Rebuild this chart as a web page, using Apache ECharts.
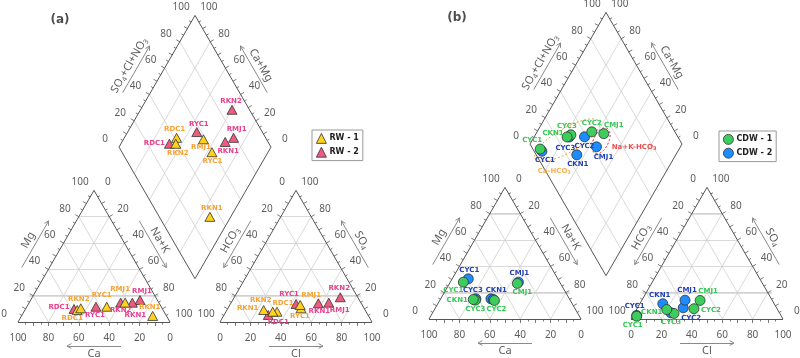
<!DOCTYPE html>
<html><head><meta charset="utf-8">
<script src="https://cdn.jsdelivr.net/npm/echarts@6/dist/echarts.min.js"></script>
<style>html,body{margin:0;padding:0;background:#fff}#c{width:800px;height:358px}</style>
</head><body><div id="c"></div>
<script>
// ================= DATA =================
const tickValues = [0, 20, 40, 60, 80, 100];
const namesA = ['RDC1', 'RKN2', 'RYC1', 'RMJ1', 'RKN1'];
// cation: [Ca, Mg, Na+K] (%), anion: [HCO3, SO4, Cl] (%)
const rw1Cation = [[56.5, 9.1, 34.4], [53.5, 10.4, 36.1], [35.8, 11.6, 52.6], [22.2, 14.7, 63.1], [9.1, 4.6, 86.3]];
const rw1Anion  = [[58.6, 7.8, 33.6], [61.4, 7.8, 30.8], [41.5, 10.4, 48.1], [40.8, 12.9, 46.3], [66.7, 9.1, 24.2]];
const rw2Cation = [[58.2, 9.9, 31.9], [25.1, 14.7, 60.2], [42.9, 11.6, 45.5], [11.4, 16.7, 71.9], [17.4, 14.7, 67.9]];
const rw2Anion  = [[65.6, 5.3, 29.1], [11.5, 18.8, 69.7], [43.1, 13.7, 43.2], [21.1, 14.7, 64.2], [28.2, 14.2, 57.6]];

const namesB = ['CYC1', 'CYC2', 'CYC3', 'CKN1', 'CMJ1'];
const cdw1Cation = [[63.4, 28.0, 8.6], [49.9, 14.1, 36.0], [62.3, 14.3, 23.4], [63.5, 14.8, 21.7], [28.4, 27.0, 44.6]];
const cdw1Anion  = [[95.2, 2.1, 2.7], [54.7, 7.8, 37.5], [69.6, 4.2, 26.2], [72.9, 7.2, 19.9], [47.5, 14.1, 38.4]];
const cdw2Cation = [[58.9, 30.5, 10.6], [51.6, 15.3, 33.1], [61.5, 15.3, 23.2], [50.3, 14.8, 34.9], [27.2, 28.0, 44.8]];
const cdw2Anion  = [[94.9, 2.7, 2.4], [61.4, 8.5, 30.1], [71.4, 4.7, 23.9], [73.3, 11.6, 15.1], [57.3, 14.3, 28.4]];

// water-type groups in diamond (b): [Ca+Mg, SO4+Cl]
const groupNames = ['Ca-HCO3', 'Na+K-HCO3'];
const groupCentres = [[77, 26], [54.5, 48]];

// ================= LAYOUT / STYLE =================
const SQ3 = Math.sqrt(3);
const SIDE = 152, HGT = SIDE * SQ3 / 2, GAP = 50;
const PANEL_POS = { a: [18, 322], b: [429, 319] };
const NB = [0, 1], NL = [-SQ3 / 2, -0.5], NR = [SQ3 / 2, -0.5];
const FONT = 'Noto Sans';
const LBL_FONT = 'DejaVu Sans';

const LABEL_OFFSETS = {
  'RW-1': { cat: { RDC1: [-5, 8], RKN2: [-2, -9], RYC1: [-5, -12], RMJ1: [-5, -13], RKN1: [-3, -9] },
            an:  { RDC1: [6, -9], RKN2: [-12, -12], RYC1: [-1, 8], RMJ1: [11, -10], RKN1: [-16, -2] },
            dia: { RDC1: [-2, -9], RKN2: [2, 9], RYC1: [9, 22], RMJ1: [-11, -5], RKN1: [2, -9] } },
  'RW-2': { cat: { RDC1: [-15, -2], RKN2: [0, 8], RYC1: [-1, 8], RMJ1: [2, -9], RKN1: [3, 13] },
            an:  { RDC1: [10, 7], RKN2: [-1, -9], RYC1: [-7, -10], RMJ1: [11, 8], RKN1: [1, 8] },
            dia: { RDC1: [-15, -1], RKN2: [-1, -9], RYC1: [2, -8], RMJ1: [3, -9], RKN1: [3, 9] } },
  'CDW-1': { cat: { CYC1: [-10, 8], CYC2: [2, 9], CYC3: [0, 9], CKN1: [-16, 1], CMJ1: [5, 9] },
             an:  { CYC1: [-4, 9], CYC2: [17, 1], CYC3: [-3, 9], CKN1: [-15, 3], CMJ1: [8, -9] },
             dia: { CYC1: [-8, -9], CYC2: [0, -9], CYC3: [-4, -9], CKN1: [-14, -4], CMJ1: [10, -8] } },
  'CDW-2': { cat: { CYC1: [1, -9], CYC3: [-3, -9], CKN1: [3, -9], CMJ1: [1, -9] },
             an:  { CYC1: [-2, -9], CYC2: [8, 10], CKN1: [-3, -9], CMJ1: [2, -10] },
             dia: { CYC1: [3, 9], CYC2: [0, 9], CYC3: [-4, 11], CKN1: [1, 9], CMJ1: [7, 10] } }
};
const GROUP_STYLE = [
  { color: '#f5a030', rx: 37, ry: 12, rot: -30, label: '{t|Ca-HCO}{s|3}', off: [-13, 31] },
  { color: '#e62222', rx: 14, ry: 7.5, rot: -65, label: '{t|Na+K-HCO}{s|3}', off: [33, 6] }
];

function layout(p) {
  const [x0, yb] = PANEL_POS[p];
  const cat = { L: [x0, yb], R: [x0 + SIDE, yb], A: [x0 + SIDE / 2, yb - HGT] };
  const ax0 = x0 + SIDE + GAP;
  const an = { L: [ax0, yb], R: [ax0 + SIDE, yb], A: [ax0 + SIDE / 2, yb - HGT] };
  const B = [x0 + SIDE + GAP / 2, yb - GAP / 2 * SQ3];
  const dia = { B, Lf: [B[0] - SIDE / 2, B[1] - HGT], Rt: [B[0] + SIDE / 2, B[1] - HGT], T: [B[0], B[1] - 2 * HGT] };
  return { cat, an, dia };
}
const lerp = (P, Q, t) => [P[0] + (Q[0] - P[0]) * t, P[1] + (Q[1] - P[1]) * t];
const add = (P, v, k) => [P[0] + v[0] * k, P[1] + v[1] * k];
function bary(T, wL, wA, wR) {
  const s = wL + wA + wR;
  return [(T.L[0] * wL + T.A[0] * wA + T.R[0] * wR) / s, (T.L[1] * wL + T.A[1] * wA + T.R[1] * wR) / s];
}
function diaXY(g, c, s) {
  const { B, Lf, Rt } = g.dia;
  return [B[0] + (Lf[0] - B[0]) * c / 100 + (Rt[0] - B[0]) * s / 100,
          B[1] + (Lf[1] - B[1]) * c / 100 + (Rt[1] - B[1]) * s / 100];
}

// ================= STRUCTURE =================
const gridSegs = [], frameSegs = [], tickSegs = [], arrowSegs = [], hiliteSegs = [], texts = [];
const rich = {
  t: { fontSize: 11, fontFamily: FONT, color: '#333' },
  s: { fontSize: 7, fontFamily: FONT, color: '#333', padding: [6, 0, 0, 0] }
};
function txt(P, str, extra) {
  texts.push({ value: P, label: Object.assign({ formatter: str }, extra || {}) });
}

function triGrid(T) {
  for (let i = 1; i <= 4; i++) {
    const t = i / 5;
    gridSegs.push([lerp(T.L, T.R, t), lerp(T.A, T.R, t)]);
    gridSegs.push([lerp(T.R, T.L, t), lerp(T.A, T.L, t)]);
    gridSegs.push([lerp(T.L, T.A, t), lerp(T.R, T.A, t)]);
  }
  frameSegs.push([T.L, T.R], [T.R, T.A], [T.A, T.L]);
}

function edgeDecor(P, Q, n, vals, title, dir, rot, ticks) {
  if (ticks) {
    for (let k = 1; k < 20; k++) {
      const p = lerp(P, Q, k / 20);
      tickSegs.push([p, add(p, n, k % 2 === 0 ? 4 : 2.5)]);
    }
  }
  vals.forEach((v, i) => txt(add(lerp(P, Q, i / 5), n, 16), String(v), { fontSize: 10 }));
  const mid = lerp(P, Q, 0.5);
  const len = Math.hypot(Q[0] - P[0], Q[1] - P[1]);
  const u = [(Q[0] - P[0]) / len * dir, (Q[1] - P[1]) / len * dir];
  const c = add(mid, n, 24);
  const a0 = add(c, u, -27), a1 = add(c, u, 27);
  arrowSegs.push([a0, a1]);
  [0.5, -0.5].forEach(ang => {
    const cs = Math.cos(ang), sn = Math.sin(ang);
    const v = [-(u[0] * cs - u[1] * sn), -(u[0] * sn + u[1] * cs)];
    arrowSegs.push([a1, add(a1, v, 5)]);
  });
  txt(add(mid, n, 32), title, { rotate: rot, rich });
}

const up = tickValues, down = tickValues.slice().reverse();
['a', 'b'].forEach(p => {
  const g = layout(p);
  triGrid(g.cat); triGrid(g.an);
  // highlighted 20-level lines
  [g.cat, g.an].forEach(T => {
    const l = lerp(T.L, T.A, 0.2), r = lerp(T.R, T.A, 0.2);
    hiliteSegs.push([[l[0] - 4, l[1]], [r[0] + 4, r[1]]]);
    if (p === 'b') {
      const l8 = lerp(T.L, T.A, 0.8), r8 = lerp(T.R, T.A, 0.8);
      hiliteSegs.push([l8, r8]);
    }
  });
  const D = g.dia;
  for (let i = 1; i <= 4; i++) {
    const t = i / 5;
    gridSegs.push([lerp(D.B, D.Rt, t), lerp(D.Lf, D.T, t)]);
    gridSegs.push([lerp(D.B, D.Lf, t), lerp(D.Rt, D.T, t)]);
  }
  frameSegs.push([D.B, D.Lf], [D.Lf, D.T], [D.T, D.Rt], [D.Rt, D.B]);

  edgeDecor(g.cat.L, g.cat.R, NB, down, '{t|Ca}', -1, 0, true);
  edgeDecor(g.cat.L, g.cat.A, NL, up, '{t|Mg}', 1, 60, true);
  edgeDecor(g.cat.A, g.cat.R, NR, up, '{t|Na+K}', 1, -60, true);
  edgeDecor(g.an.L, g.an.R, NB, up, '{t|Cl}', 1, 0, true);
  edgeDecor(g.an.L, g.an.A, NL, down, '{t|HCO}{s|3}', -1, 60, true);
  edgeDecor(g.an.R, g.an.A, NR, up, '{t|SO}{s|4}', 1, -60, true);
  edgeDecor(D.Lf, D.T, NL, up, '{t|SO}{s|4}{t|+Cl+NO}{s|3}', 1, 60, true);
  edgeDecor(D.T, D.Rt, NR, down, '{t|Ca+Mg}', -1, -60, true);
});
txt([60, 20], '(a)', { fontSize: 12, fontWeight: 'bold', fontFamily: 'DejaVu Sans', color: '#222' });
txt([457, 18], '(b)', { fontSize: 12, fontWeight: 'bold', fontFamily: 'DejaVu Sans', color: '#222' });

// group annotation labels
const gB = layout('b');
const groupPts = groupCentres.map(c => diaXY(gB, c[0], c[1]));
groupPts.forEach((P, i) => {
  const st = GROUP_STYLE[i];
  txt(add(P, st.off, 1), st.label, {
    rich: {
      t: { fontSize: 7, fontWeight: 'bold', fontFamily: LBL_FONT, color: st.color },
      s: { fontSize: 5, fontWeight: 'bold', fontFamily: LBL_FONT, color: st.color, padding: [4, 0, 0, 0] }
    }
  });
});

function linesSeries(segs, color, width, z, dash) {
  return {
    type: 'lines', coordinateSystem: 'cartesian2d', polyline: false, silent: true, z, animation: false,
    lineStyle: { color, width, opacity: 1, type: dash || 'solid' },
    data: segs.map(s => ({ coords: s }))
  };
}

function pointSeries(group, panel, names, cation, anion, st) {
  const g = layout(panel);
  const data = [];
  const offs = LABEL_OFFSETS[group];
  names.forEach((nm, i) => {
    const [ca, mg, na] = cation[i];
    const [hc, so, cl] = anion[i];
    const cs = ca + mg + na, as = hc + so + cl;
    const pts = {
      cat: bary(g.cat, ca, mg, na),
      an: bary(g.an, hc, so, cl),
      dia: diaXY(g, (ca + mg) / cs * 100, (so + cl) / as * 100)
    };
    ['cat', 'an', 'dia'].forEach(k => {
      const off = offs[k][nm];
      data.push({ name: nm, value: pts[k], label: off ? { show: true, offset: off } : { show: false } });
    });
  });
  return {
    type: 'scatter', name: group, symbol: st.symbol, symbolSize: st.size, z: 5, animation: false,
    itemStyle: { color: st.fill, borderColor: '#333', borderWidth: 0.8, opacity: 1 },
    emphasis: { disabled: true },
    label: { show: true, position: 'inside', formatter: '{b}', color: st.labelColor, fontSize: 7,
             fontWeight: 'bold', fontFamily: LBL_FONT },
    data
  };
}

const series = [
  linesSeries(hiliteSegs, '#dedede', 2, 1),
  linesSeries(gridSegs, '#cfcfcf', 0.8, 2),
  linesSeries(frameSegs, '#555', 1, 3),
  linesSeries(tickSegs, '#555', 0.8, 3),
  linesSeries(arrowSegs, '#8a8a8a', 1, 3),
  {
    type: 'custom', coordinateSystem: 'cartesian2d', silent: true, z: 4, animation: false,
    data: groupPts,
    renderItem: function (params, api) {
      const st = GROUP_STYLE[params.dataIndex];
      const c = api.coord([api.value(0), api.value(1)]);
      const r = st.rot * Math.PI / 180, pts = [];
      for (let k = 0; k <= 72; k++) {
        const a = k / 72 * Math.PI * 2;
        const ex = st.rx * Math.cos(a), ey = st.ry * Math.sin(a);
        pts.push([c[0] + ex * Math.cos(r) - ey * Math.sin(r), c[1] + ex * Math.sin(r) + ey * Math.cos(r)]);
      }
      return { type: 'polyline', shape: { points: pts }, style: { fill: 'none', stroke: st.color, lineWidth: 1, lineDash: [2, 2] } };
    }
  },
  pointSeries('RW-2', 'a', namesA, rw2Cation, rw2Anion, { symbol: 'triangle', size: [10, 9], fill: '#ee5a80', labelColor: '#e8418c' }),
  pointSeries('RW-1', 'a', namesA, rw1Cation, rw1Anion, { symbol: 'triangle', size: [10, 9], fill: '#ffd21c', labelColor: '#f7a234' }),
  pointSeries('CDW-2', 'b', namesB, cdw2Cation, cdw2Anion, { symbol: 'circle', size: 10, fill: '#1e8cff', labelColor: '#1f3fb5' }),
  pointSeries('CDW-1', 'b', namesB, cdw1Cation, cdw1Anion, { symbol: 'circle', size: 10, fill: '#3ccd5c', labelColor: '#35c856' }),
  {
    type: 'scatter', silent: true, symbolSize: 1, z: 6, animation: false,
    itemStyle: { color: 'rgba(0,0,0,0)' },
    label: { show: true, position: 'inside', color: '#333', fontFamily: FONT, fontSize: 10 },
    data: texts
  }
];

const legendCommon = {
  orient: 'vertical', selectedMode: false, backgroundColor: '#fff', borderColor: '#999', borderWidth: 1,
  borderRadius: 0, padding: [3, 4, 3, 4], itemGap: 3, itemWidth: 10, itemHeight: 10,
  itemStyle: { borderWidth: 0.8, borderColor: '#333' },
  formatter: n => n.replace('-', ' - '),
  textStyle: { fontSize: 8, fontWeight: 'bold', fontFamily: LBL_FONT, color: '#222', padding: [0, 0, 0, -2] }
};

const chart = echarts.init(document.getElementById('c'), null, { renderer: 'canvas' });
chart.setOption({
  backgroundColor: '#fff',
  animation: false,
  grid: { left: 0, right: 0, top: 0, bottom: 0 },
  xAxis: { type: 'value', min: 0, max: 800, show: false },
  yAxis: { type: 'value', min: 0, max: 358, inverse: true, show: false },
  legend: [
    Object.assign({ data: ['RW-1', 'RW-2'], left: 312, top: 130 }, legendCommon),
    Object.assign({ data: ['CDW-1', 'CDW-2'], left: 719, top: 131 }, legendCommon)
  ],
  series
});
</script></body></html>
